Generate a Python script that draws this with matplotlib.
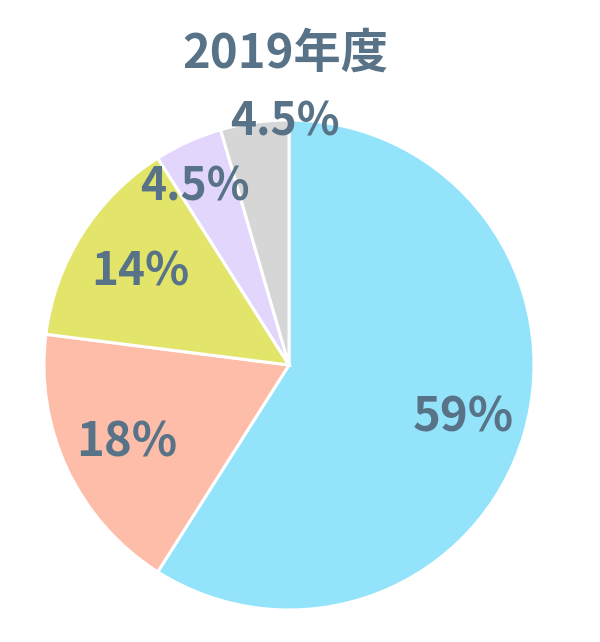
import matplotlib.pyplot as plt
import numpy as np

shares = [59, 18, 14, 4.5, 4.5]
labels = ['59%', '18%', '14%', '4.5%', '4.5%']
colors = ['#93E4FB', '#FDBDA8', '#E3E56A', '#E2D6FD', '#D6D6D6']
# label placement as (radius fraction, angle in degrees)
labelPos = [(0.742, -16.9), (0.734, 205.7), (0.715, 148.3), (0.82, 117.8), (0.99, 90.9)]
labelSizes = [34, 34, 33, 32, 32]
title = '2019年度'

textColor = '#587387'
fontList = ['Noto Sans CJK JP', 'DejaVu Sans']
plt.rcParams['font.family'] = fontList

fig = plt.figure(figsize = (6, 6.42), dpi = 100)
cx, cy, r = 289 / 600, 1 - 365 / 642, 245
ax = fig.add_axes([cx - r / 600, cy - r / 642, 2 * r / 600, 2 * r / 642])

ax.pie(
    shares,
    colors = colors,
    startangle = 90,
    counterclock = False,
    radius = 1,
    wedgeprops = dict(edgecolor = 'white', linewidth = 2.2)
)
ax.set_xlim(-1, 1)
ax.set_ylim(-1, 1)
ax.set_aspect('equal')
ax.axis('off')

for text, (rad, ang), size in zip(labels, labelPos, labelSizes):
    a = np.deg2rad(ang)
    ax.text(rad * np.cos(a), rad * np.sin(a), text, ha = 'center', va = 'center',
            fontsize = size, fontweight = 'bold', color = textColor)

fig.text(285 / 600, 1 - 54 / 642, title, ha = 'center', va = 'center',
         fontsize = 34, fontweight = 'bold', color = textColor)

fig.savefig('out.png', dpi = 100)
plt.close(fig)
